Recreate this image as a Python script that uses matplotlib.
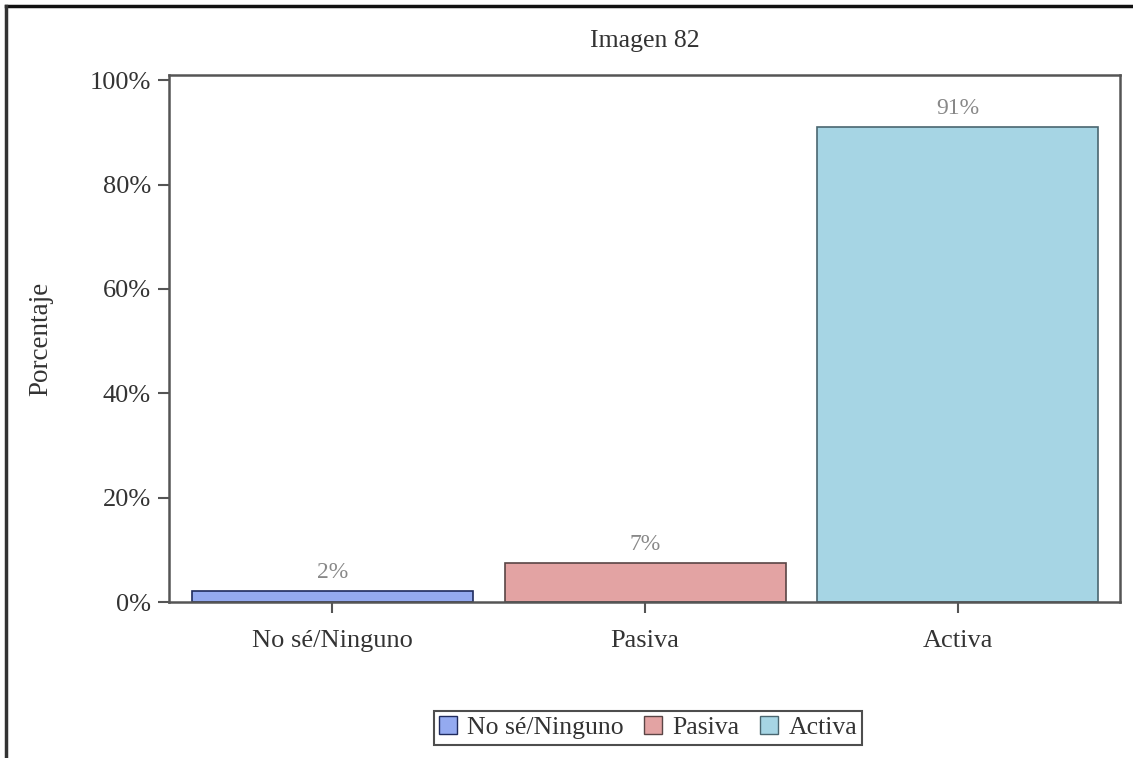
import matplotlib
matplotlib.use('Agg')
import matplotlib.pyplot as plt
from matplotlib.lines import Line2D
from matplotlib.patches import Patch

plt.rcParams['font.family'] = ['Liberation Serif', 'DejaVu Serif']

categories = ['No sé/Ninguno', 'Pasiva', 'Activa']
values = [2.1, 7.4, 91.0]
labels = ['2%', '7%', '91%']
yticks = [0, 20, 40, 60, 80, 100]
ytick_labels = ['0%', '20%', '40%', '60%', '80%', '100%']

colors = ['#94aaf0', '#e3a3a3', '#a6d5e4']
edges = ['#1f2b5e', '#5a4545', '#4a6670']
text_col = '#333333'
axis_col = '#555555'

fig = plt.figure(figsize=(11.33, 7.58), dpi=100)
ax = fig.add_axes([0.1492, 0.2058, 0.8393, 0.6953])

x = range(len(categories))
bars = ax.bar(x, values, width=0.898, color=colors, edgecolor=edges, linewidth=1.2)
ax.bar_label(bars, labels=labels, padding=6, fontsize=17, color='#888888')

ax.set_xlim(-0.522, 2.518)
ax.set_ylim(0, 101)
ax.set_xticks(list(x))
ax.set_xticklabels(categories)
ax.set_yticks(yticks)
ax.set_yticklabels(ytick_labels)
ax.tick_params(axis='both', labelsize=19, colors=axis_col, labelcolor=text_col,
               length=8, width=1.5)
ax.tick_params(axis='x', pad=12)
ax.tick_params(axis='y', pad=5)
for s in ax.spines.values():
    s.set_color(axis_col)
    s.set_linewidth(1.8)

ax.set_ylabel('Porcentaje', fontsize=19.5, color=text_col, labelpad=26)
ax.set_title('Imagen 82', fontsize=18.5, color=text_col, pad=20)

handles = [Patch(facecolor=c, edgecolor=e, linewidth=1) for c, e in zip(colors, edges)]
leg = fig.legend(handles, categories, loc='center', bbox_to_anchor=(0.572, 0.0396),
                 ncol=3, fontsize=18.5, frameon=True, fancybox=False,
                 handlelength=0.7, handleheight=0.7, handletextpad=0.4,
                 columnspacing=0.8, borderpad=0.2, borderaxespad=0, labelcolor=text_col)
leg.get_frame().set_edgecolor('#222222')
leg.get_frame().set_linewidth(1.5)

# outer frame: only top and left edges are visible in the crop
fig.add_artist(Line2D([0.0053, 1.0], [0.9921, 0.9921], color='#111111', linewidth=2.5,
                      transform=fig.transFigure))
fig.add_artist(Line2D([0.0053, 0.0053], [0.0, 0.9921], color='#333333', linewidth=2.5,
                      transform=fig.transFigure))

fig.savefig('out.png', dpi=100)
